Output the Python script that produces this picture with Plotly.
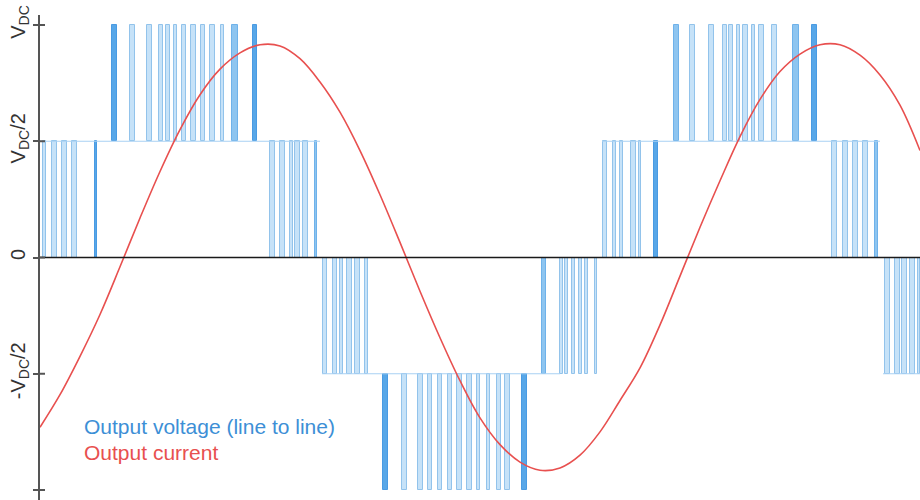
import plotly.graph_objects as go

# ---------------- data (time in arbitrary units, voltage in units of V_DC) ----------------
# Output current samples (red)
current_t = [0, 20, 40, 60, 80, 100, 120, 140, 160, 180, 200, 220, 240, 260, 280, 300,
             320, 340, 360, 380, 400, 420, 440, 460, 480, 500, 520, 540, 560, 580, 600,
             620, 640, 660, 680, 700, 720, 740, 760, 780, 800, 820, 840, 860, 880]
current_v = [-0.73, -0.59, -0.425, -0.245, -0.04, 0.17, 0.37, 0.55, 0.70, 0.81, 0.88, 0.915,
             0.91, 0.855, 0.755, 0.625, 0.46, 0.27, 0.065, -0.145, -0.345, -0.53, -0.69, -0.805,
             -0.88, -0.915, -0.905, -0.85, -0.75, -0.615, -0.475, -0.29, -0.08, 0.13, 0.33,
             0.52, 0.68, 0.80, 0.875, 0.915, 0.915, 0.87, 0.785, 0.655, 0.46]

# PWM voltage bands: lower / upper level and the pulses (centre, width, tone 0=light 1=mid 2=dark)
band_low = [0.0, 0.5, 0.0, -0.5, -1.0, -0.5, 0.0, 0.5, 0.0, -0.5]
band_high = [0.5, 1.0, 0.5, 0.0, -0.5, 0.0, 0.5, 1.0, 0.5, 0.0]
band_pulses = [
    [(4.5, 3, 0), (14.5, 5, 0), (24, 5, 0), (34, 5, 0), (56, 2.5, 2)],
    [(74.5, 5, 2), (92, 5, 0), (109.5, 5, 0), (121, 4, 0), (128, 4, 0), (135, 3, 0),
     (144, 4, 0), (153, 5, 0), (162.5, 4, 0), (172, 5, 0), (182, 3, 0), (195, 6, 1), (215, 4, 2)],
    [(232.5, 5, 0), (242.5, 5, 0), (251.5, 3, 0), (257.5, 5, 0), (265.5, 5, 0), (276, 2.5, 1)],
    [(284.5, 4, 0), (295, 4, 0), (301.5, 3, 0), (309.5, 5, 0), (317.5, 5, 0), (326.5, 3, 0)],
    [(345.5, 5, 2), (364.5, 5, 0), (380.5, 5, 0), (390, 4, 0), (400, 4, 0), (410, 4, 0),
     (419.5, 5, 0), (429.5, 5, 0), (438.5, 3, 0), (448.5, 3, 0), (459, 4, 0), (467.5, 5, 0), (484.5, 5, 2)],
    [(504, 4, 1), (521.5, 3, 0), (526.5, 3, 0), (533, 3, 0), (540, 3, 0), (546.5, 3, 0), (556, 2.5, 0)],
    [(565, 4, 0), (574, 3, 0), (581.5, 3, 0), (593, 5, 0), (600, 2, 0), (616, 4, 2)],
    [(636, 5, 1), (652, 5, 0), (671, 5, 0), (685, 4, 0), (691, 4, 0), (698.5, 3, 0),
     (705.5, 5, 0), (713.5, 3, 0), (721, 5, 0), (734.5, 5, 0), (755.5, 6, 1), (774.5, 5, 2)],
    [(794, 5, 0), (805.5, 5, 0), (815.5, 5, 0), (825.5, 5, 0), (836.5, 3, 1)],
    [(847.5, 5, 0), (857.5, 5, 0), (864.5, 5, 0), (872.5, 5, 0), (879, 2, 0)],
]
# half-level plateaus (start, end, level)
plateau_start = [0, 282, 562, 843]
plateau_end = [280, 520, 840, 880]
plateau_level = [0.5, -0.5, 0.5, -0.5]

tick_vals = [-1, -0.5, 0, 0.5, 1]
tick_text = ["-V<sub>DC</sub>", "-V<sub>DC</sub>/2", "0", "V<sub>DC</sub>/2", "V<sub>DC</sub>"]

legend_labels = ["Output voltage (line to line)", "Output current"]

# ---------------- styles ----------------
FILL = ["#c6e2f8", "#8ec5f0", "#58a7e8"]
EDGE = ["#92c3eb", "#6fb2ea", "#4a9be3"]
BLUE_TXT = "#3d8fd6"
RED = "#e8504f"

fig = go.Figure()

bx, bw, bb, bh, bc, bl = [], [], [], [], [], []
for lo, hi, pulses in zip(band_low, band_high, band_pulses):
    for c, w, tone in pulses:
        bx.append(c)
        bw.append(w)
        bb.append(lo)
        bh.append(hi - lo)
        bc.append(FILL[tone])
        bl.append(EDGE[tone])

fig.add_trace(go.Bar(x=bx, y=bh, base=bb, width=bw,
                     marker=dict(color=bc, line=dict(color=bl, width=1)),
                     showlegend=False, hoverinfo="skip"))

px_, py_ = [], []
for s, e, lv in zip(plateau_start, plateau_end, plateau_level):
    px_ += [s, e, None]
    py_ += [lv, lv, None]
fig.add_trace(go.Scatter(x=px_, y=py_, mode="lines",
                         line=dict(color="#a8d1f3", width=1.2),
                         showlegend=False, hoverinfo="skip"))

fig.add_trace(go.Scatter(x=current_t, y=current_v, mode="lines",
                         line=dict(color=RED, width=1.6, shape="spline", smoothing=1.0),
                         showlegend=False, hoverinfo="skip"))

# zero line
fig.add_shape(type="line", xref="x", yref="y", x0=0, x1=880, y0=0, y1=0,
              line=dict(color="#1a1a1a", width=1.6), layer="above")
# inside halves of the crossing tick marks
for tv in tick_vals:
    fig.add_shape(type="line", xref="x", yref="y", x0=0, x1=5, y0=tv, y1=tv,
                  line=dict(color="#555555", width=2), layer="above")

fig.add_annotation(x=42, y=-0.727, xref="x", yref="y", text=legend_labels[0],
                   showarrow=False, xanchor="left", yanchor="middle",
                   font=dict(size=21, color=BLUE_TXT, family="Liberation Sans, Arial"))
fig.add_annotation(x=42, y=-0.839, xref="x", yref="y", text=legend_labels[1],
                   showarrow=False, xanchor="left", yanchor="middle",
                   font=dict(size=21, color=RED, family="Liberation Sans, Arial"))

fig.update_layout(
    width=920, height=500,
    margin=dict(l=40, r=0, t=15, b=0),
    paper_bgcolor="white", plot_bgcolor="white",
    bargap=0, barmode="overlay",
    font=dict(family="Liberation Sans, Arial", color="#333333"),
    xaxis=dict(range=[0, 880], visible=False, fixedrange=True, automargin=False),
    yaxis=dict(range=[-1.043, 1.043], tickvals=tick_vals, ticktext=tick_text,
               tickangle=-90, ticks="outside", ticklen=5, tickwidth=2, tickcolor="#555555",
               showline=True, linecolor="#555555", linewidth=2,
               showgrid=False, zeroline=False, automargin=False, ticklabelstandoff=0,
               tickfont=dict(size=20, color="#333333", family="Liberation Sans, Arial")),
)

fig.write_html("out.html", config={"displayModeBar": False},
               post_script="document.body.style.margin='0';document.body.style.overflow='hidden';")
